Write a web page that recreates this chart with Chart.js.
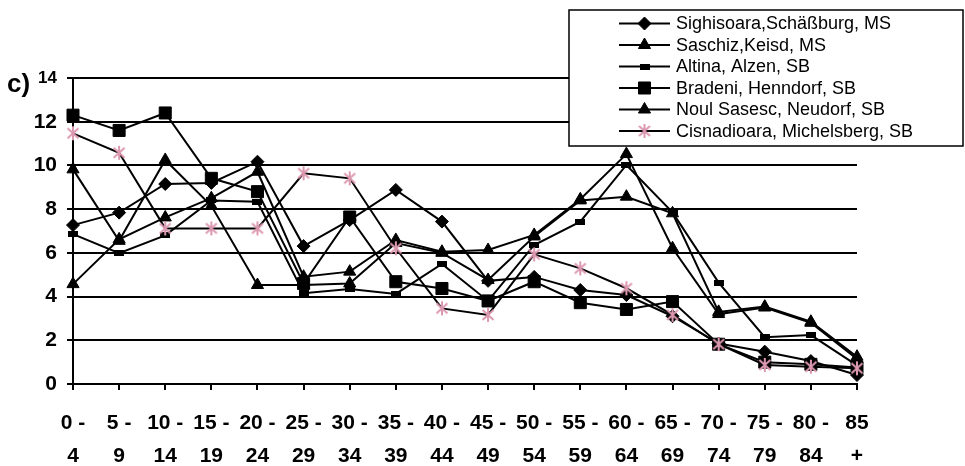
<!DOCTYPE html>
<html><head><meta charset="utf-8">
<script src="https://cdn.jsdelivr.net/npm/chart.js@4/dist/chart.umd.min.js"></script>
<style>html,body{margin:0;padding:0;background:#fff;overflow:hidden}</style>
</head><body>
<canvas id="c" width="965" height="466"></canvas>
<script>
// ---- data ----
const categories = [["0 -","4"],["5 -","9"],["10 -","14"],["15 -","19"],["20 -","24"],["25 -","29"],["30 -","34"],["35 -","39"],["40 -","44"],["45 -","49"],["50 -","54"],["55 -","59"],["60 -","64"],["65 -","69"],["70 -","74"],["75 -","79"],["80 -","84"],["85","+"]];
const seriesNames = ["Sighisoara,Schäßburg, MS","Saschiz,Keisd, MS","Altina, Alzen, SB","Bradeni, Henndorf, SB","Noul Sasesc, Neudorf, SB","Cisnadioara, Michelsberg, SB"];
const sighisoara  = [7.27, 7.84, 9.15, 9.2, 10.17, 6.31, 7.5, 8.88, 7.43, 4.72, 4.9, 4.3, 4.07, 3.1, 1.85, 1.48, 1.05, 0.41];
const saschiz     = [4.57, 6.62, 7.62, 8.5, 9.71, 4.91, 5.14, 6.59, 6.05, 6.13, 6.82, 8.45, 10.52, 6.21, 3.2, 3.5, 2.8, 1.15];
const altina      = [6.86, 5.98, 6.8, 8.4, 8.34, 4.15, 4.35, 4.12, 5.49, 3.8, 6.36, 7.43, 10.02, 7.85, 4.64, 2.14, 2.24, 0.85];
const bradeni     = [12.3, 11.6, 12.4, 9.41, 8.8, 4.6, 7.64, 4.68, 4.37, 3.8, 4.68, 3.72, 3.41, 3.77, 1.82, 1.0, 0.9, 0.75];
const noulSasesc  = [9.82, 6.55, 10.25, 8.15, 4.53, 4.53, 4.6, 6.45, 6.0, 4.76, 6.75, 8.4, 8.57, 7.81, 3.3, 3.54, 2.85, 1.25];
const cisnadioara = [11.47, 10.58, 7.12, 7.12, 7.12, 9.64, 9.41, 6.21, 3.46, 3.16, 5.93, 5.29, 4.38, 3.16, 1.82, 0.87, 0.79, 0.72];
const yTicks = [0, 2, 4, 6, 8, 10, 12, 14];
const panelLabel = "c)";

// ---- marker styles ----
const FONT = "'Liberation Sans', Arial, sans-serif";
const PINK = '#dc98b0';
function dashMarker(){const c=document.createElement('canvas');c.width=10;c.height=6;const x=c.getContext('2d');x.fillStyle='#000';x.fillRect(0,0,10,6);return c;}
function starMarker(){const c=document.createElement('canvas');c.width=16;c.height=16;const x=c.getContext('2d');x.strokeStyle=PINK;x.lineWidth=2;x.beginPath();x.moveTo(8,1);x.lineTo(8,15);x.moveTo(2.5,3);x.lineTo(13.5,13);x.moveTo(13.5,3);x.lineTo(2.5,13);x.stroke();return c;}
const dash = dashMarker(), star = starMarker();

const seriesData = [sighisoara, saschiz, altina, bradeni, noulSasesc, cisnadioara];
const markers = [
  {pointStyle:'rectRot', pointRadius:6.5},
  {pointStyle:'triangle', pointRadius:7},
  {pointStyle:dash, pointRadius:5},
  {pointStyle:'rect', pointRadius:8.5},
  {pointStyle:'triangle', pointRadius:7},
  {pointStyle:star, pointRadius:8}
];
const datasets = seriesData.map((d,i)=>Object.assign({
  label: seriesNames[i], data: d,
  borderColor:'#000', borderWidth:2, tension:0, fill:false, clip:false,
  pointBorderColor:'#000', pointBackgroundColor:'#000', pointBorderWidth:1,
  pointHoverRadius: markers[i].pointRadius,
  order: seriesData.length-1-i
}, markers[i]));

const overlay = {
  id:'overlay',
  afterDraw(chart){
    const ctx = chart.ctx;
    ctx.save();
    // panel label
    ctx.fillStyle='#000'; ctx.font='bold 26px '+FONT; ctx.textBaseline='alphabetic'; ctx.textAlign='left';
    ctx.fillText(panelLabel, 7, 92);
    // legend box
    const L=569,T=10,R=963,B=146;
    ctx.fillStyle='#fff'; ctx.fillRect(L,T,R-L,B-T);
    ctx.strokeStyle='#000'; ctx.lineWidth=1.5; ctx.strokeRect(L,T,R-L,B-T);
    chart.data.datasets.forEach((ds,i)=>{
      const y = T + 13.5 + i*21.5;
      ctx.strokeStyle='#000'; ctx.lineWidth=2;
      ctx.beginPath(); ctx.moveTo(619,y); ctx.lineTo(670,y); ctx.stroke();
      ctx.fillStyle='#000'; ctx.strokeStyle='#000'; ctx.lineWidth=1;
      Chart.helpers.drawPoint(ctx,{pointStyle:ds.pointStyle, radius:ds.pointRadius, rotation:0, borderWidth:1},644.5,y);
      ctx.fillStyle='#000'; ctx.font='18px '+FONT; ctx.textBaseline='middle'; ctx.textAlign='left';
      ctx.fillText(ds.label, 676, y+1);
    });
    ctx.restore();
  }
};

new Chart(document.getElementById('c'), {
  type:'line',
  data:{labels:categories, datasets},
  options:{
    responsive:false, animation:false, maintainAspectRatio:false,
    layout:{padding:{left:0,right:108,top:78,bottom:0}},
    plugins:{legend:{display:false}, tooltip:{enabled:false}},
    scales:{
      x:{
        offset:false,
        grid:{drawOnChartArea:false, drawTicks:true, tickLength:6, color:'#000', lineWidth:2},
        border:{display:true, color:'#000', width:2},
        ticks:{color:'#000', autoSkip:false, maxRotation:0, padding:17,
          font:{family:FONT, weight:'bold', size:21, lineHeight:1.57}},
        afterFit(s){ s.height = 82; }
      },
      y:{
        min:0, max:14,
        afterBuildTicks(s){ s.ticks = yTicks.map(v=>({value:v})); },
        grid:{color:'#000', lineWidth:2, tickLength:6},
        border:{display:true, color:'#000', width:2},
        ticks:{color:'#000', padding:10,
          font:(c)=> (c.tick && c.tick.value===14) ? {family:FONT, weight:'bold', size:17} : {family:FONT, weight:'bold', size:21}},
        afterFit(s){ s.width = 73; }
      }
    }
  },
  plugins:[overlay]
});
</script>
</body></html>
